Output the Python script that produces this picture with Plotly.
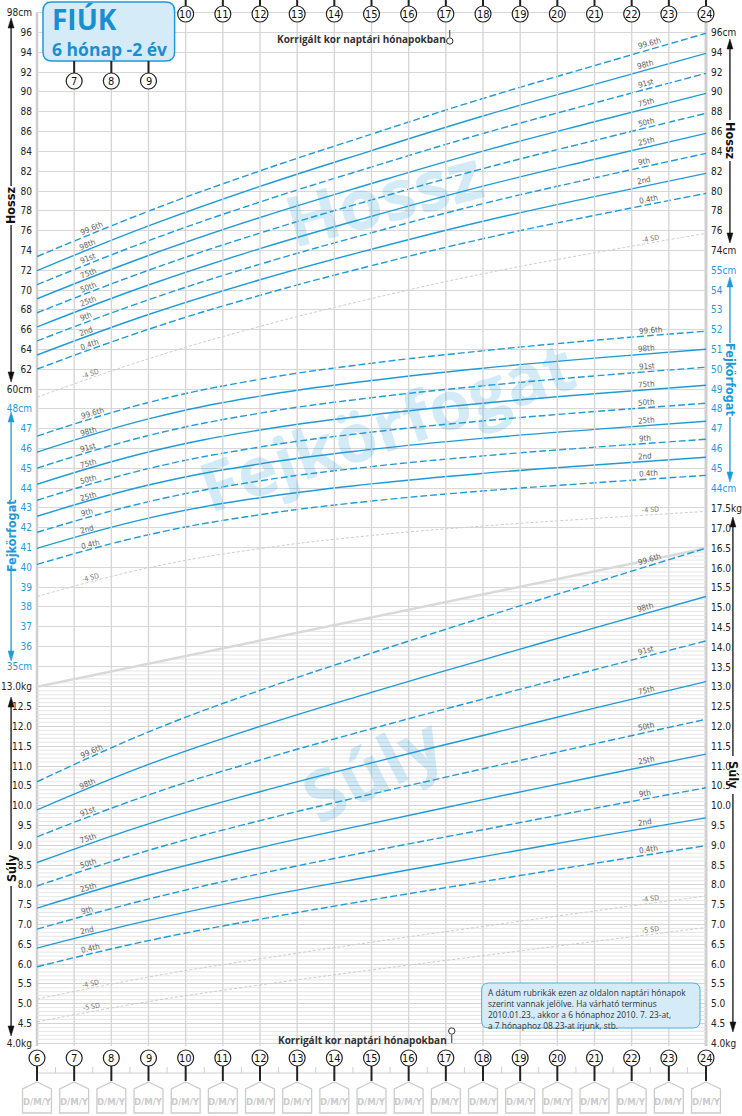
import math
import numpy as np
import plotly.graph_objects as go

# ---------------- data ----------------
MONTHS = [6, 9, 12, 15, 18, 21, 24]
CENTILE_LABELS = ["0.4th", "2nd", "9th", "25th", "50th", "75th", "91st", "98th", "99.6th"]
CENTILE_DASHED = [True, False, True, False, True, False, True, False, True]

# Length (Hossz), cm
LEN_P0_4 = [62.02, 66.04, 69.47, 72.46, 75.18, 77.54, 79.76]
LEN_P2 = [63.44, 67.53, 71.04, 74.12, 76.95, 79.43, 81.78]
LEN_P9 = [64.86, 69.02, 72.61, 75.78, 78.72, 81.32, 83.80]
LEN_P25 = [66.28, 70.51, 74.18, 77.44, 80.49, 83.21, 85.82]
LEN_P50 = [67.70, 72.00, 75.75, 79.10, 82.26, 85.10, 87.84]
LEN_P75 = [69.12, 73.49, 77.32, 80.76, 84.03, 86.99, 89.86]
LEN_P91 = [70.54, 74.98, 78.89, 82.42, 85.80, 88.88, 91.88]
LEN_P98 = [71.96, 76.47, 80.46, 84.08, 87.57, 90.77, 93.90]
LEN_P99_6 = [73.38, 77.96, 82.03, 85.74, 89.34, 92.66, 95.92]
LEN_M4SD = [59.18, 63.06, 66.33, 69.14, 71.64, 73.76, 75.72]

# Head circumference (Fejkörfogat), cm
HC_P0_4 = [40.14, 41.64, 42.65, 43.34, 43.85, 44.26, 44.64]
HC_P2 = [40.95, 42.48, 43.51, 44.21, 44.74, 45.16, 45.55]
HC_P9 = [41.76, 43.31, 44.36, 45.08, 45.62, 46.06, 46.46]
HC_P25 = [42.57, 44.15, 45.22, 45.95, 46.51, 46.96, 47.37]
HC_P50 = [43.38, 44.98, 46.07, 46.82, 47.39, 47.86, 48.28]
HC_P75 = [44.19, 45.82, 46.93, 47.69, 48.28, 48.76, 49.19]
HC_P91 = [45.00, 46.65, 47.78, 48.56, 49.16, 49.66, 50.10]
HC_P98 = [45.81, 47.49, 48.64, 49.43, 50.05, 50.56, 51.01]
HC_P99_6 = [46.62, 48.32, 49.49, 50.30, 50.93, 51.46, 51.92]
HC_M4SD = [38.52, 39.97, 40.94, 41.60, 42.08, 42.46, 42.82]

# Weight (Súly), kg
WT_P0_4 = [5.93, 6.59, 7.13, 7.62, 8.08, 8.54, 8.99]
WT_P2 = [6.40, 7.10, 7.69, 8.21, 8.71, 9.21, 9.69]
WT_P9 = [6.88, 7.64, 8.28, 8.85, 9.39, 9.93, 10.45]
WT_P25 = [7.41, 8.24, 8.94, 9.55, 10.15, 10.73, 11.30]
WT_P50 = [7.97, 8.87, 9.62, 10.29, 10.93, 11.56, 12.18]
WT_P75 = [8.56, 9.54, 10.35, 11.08, 11.77, 12.46, 13.13]
WT_P91 = [9.21, 10.27, 11.15, 11.94, 12.69, 13.43, 14.16]
WT_P98 = [9.89, 11.04, 12.00, 12.86, 13.68, 14.49, 15.28]
WT_P99_6 = [10.60, 11.86, 12.91, 13.85, 14.75, 15.63, 16.50]
WT_M4SD = [5.11, 5.67, 6.13, 6.55, 6.95, 7.34, 7.72]
WT_M5SD = [4.54, 5.05, 5.47, 5.85, 6.21, 6.57, 6.92]
WT_BOUND_MONTHS = [6, 24]
WT_BOUND = [13.0, 16.5]

# tick values
LEN_TICKS_L = list(range(60, 99, 2))
HC_TICKS_L = list(range(35, 49))
WT_TICKS_L = [x / 2 for x in range(8, 27)]
LEN_TICKS_R = list(range(74, 97, 2))
HC_TICKS_R = list(range(44, 56))
WT_TICKS_R = [x / 2 for x in range(8, 36)]
MONTH_TICKS = list(range(6, 25))

# ---------------- geometry / style ----------------
W, H = 742, 1116
X6, X24 = 37, 708
PPM = (X24 - X6) / 18.0
LEN_REF = (96.0, 32.5, 9.906)   # value, pixel row, pixels per unit
HC_REF = (44.0, 488.0, 19.8)
WT_REF = (6.0, 964.0, 39.6)

BLUE = "#1e9bd7"
GRID = "#d7d7d7"
MINOR = "#e6e6e6"
TICKFONT = "DejaVu Sans Condensed"
LABEL_GREY = "#5e5e5e"


def axis_range(ref):
    v, p, s = ref
    return [v - (H - p) / s, v + p / s]


def val_of(ref, py):
    v, p, s = ref
    return v - (py - p) / s


def xp(px):
    return (px - X6) / (X24 - X6)


def yp(py):
    return 1 - py / H


def xm(m):
    return X6 + (m - 6) * PPM


fig = go.Figure()

# minor weight grid (0.1 kg), bounded above by the grey diagonal
mx, my = [], []
for i in range(41, 165):
    if i % 5 == 0:
        continue
    wv = i / 10
    x0 = 6.0 if wv <= WT_BOUND[0] else float(np.interp(wv, WT_BOUND, WT_BOUND_MONTHS))
    mx += [x0, 24, None]
    my += [wv, wv, None]
fig.add_trace(go.Scatter(x=mx, y=my, yaxis="y3", mode="lines",
                         line=dict(color=MINOR, width=1), hoverinfo="skip", showlegend=False))

# vertical month lines
vx, vy = [], []
top_w, bot_w = val_of(WT_REF, 12.5), val_of(WT_REF, 1046)
for m in MONTH_TICKS[1:-1]:
    vx += [m, m, None]
    vy += [top_w, bot_w, None]
fig.add_trace(go.Scatter(x=vx, y=vy, yaxis="y3", mode="lines",
                         line=dict(color=GRID, width=1.4), hoverinfo="skip", showlegend=False))

# grey diagonal boundary
fig.add_trace(go.Scatter(x=WT_BOUND_MONTHS, y=WT_BOUND, yaxis="y3", mode="lines",
                         line=dict(color="#d9d9d9", width=2.5), hoverinfo="skip", showlegend=False))

# SD lines
for vals, ax in [(LEN_M4SD, "y"), (HC_M4SD, "y2"), (WT_M4SD, "y3"), (WT_M5SD, "y3")]:
    fig.add_trace(go.Scatter(x=MONTHS, y=vals, yaxis=ax, mode="lines",
                             line=dict(color="#cdcdcd", width=1, dash="3px,2px", shape="spline",
                                       smoothing=1.2),
                             hoverinfo="skip", showlegend=False))

LEN_SERIES = [LEN_P0_4, LEN_P2, LEN_P9, LEN_P25, LEN_P50, LEN_P75, LEN_P91, LEN_P98, LEN_P99_6]
HC_SERIES = [HC_P0_4, HC_P2, HC_P9, HC_P25, HC_P50, HC_P75, HC_P91, HC_P98, HC_P99_6]
WT_SERIES = [WT_P0_4, WT_P2, WT_P9, WT_P25, WT_P50, WT_P75, WT_P91, WT_P98, WT_P99_6]

for series, ax in [(LEN_SERIES, "y"), (HC_SERIES, "y2"), (WT_SERIES, "y3")]:
    for vals, dashed in zip(series, CENTILE_DASHED):
        fig.add_trace(go.Scatter(x=MONTHS, y=vals, yaxis=ax, mode="lines",
                                 line=dict(color=BLUE, width=1.4, dash="7px,3px" if dashed else "solid",
                                           shape="spline", smoothing=1.2),
                                 hoverinfo="skip", showlegend=False))

# dummy traces so right-hand axes render
for ax, v in [("y4", 80), ("y5", 50), ("y6", 10)]:
    fig.add_trace(go.Scatter(x=[6], y=[v], yaxis=ax, mode="lines", hoverinfo="skip",
                             showlegend=False, line=dict(width=0)))

annos = []
shapes = []

# watermarks
for txt, cx, cy, ang, size in [("Hossz", 385, 196, -15, 70), ("Fejkörfogat", 388, 425, -19, 68),
                               ("Súly", 373, 768, -27, 70)]:
    annos.append(dict(xref="paper", yref="paper", x=xp(cx), y=yp(cy), text="<b>" + txt + "</b>",
                      showarrow=False, textangle=ang, xanchor="center", yanchor="middle",
                      font=dict(family="Open Sans", size=size, color="rgba(30,155,215,0.2)")))


def add_curve_label(vals, ref, ax, text, start_px, size=8, color=LABEL_GREY, off=5.5):
    wpx = len(text) * 3.6
    m = 6 + (start_px + wpx / 2 - X6) / PPM
    v = float(np.interp(m, MONTHS, vals))
    dv = (float(np.interp(m + 0.4, MONTHS, vals)) - float(np.interp(m - 0.4, MONTHS, vals))) / 0.8
    slope = dv * ref[2] / PPM
    th = math.atan(slope)
    annos.append(dict(xref="x", yref=ax, x=m, y=v, text=text, showarrow=False,
                      textangle=-math.degrees(th), xanchor="center", yanchor="middle",
                      xshift=-off * math.sin(th), yshift=off * math.cos(th),
                      font=dict(family=TICKFONT, size=size, color=color)))


for series, ref, ax in [(LEN_SERIES, LEN_REF, "y"), (HC_SERIES, HC_REF, "y2"), (WT_SERIES, WT_REF, "y3")]:
    for vals, lab in zip(series, CENTILE_LABELS):
        add_curve_label(vals, ref, ax, lab, 83)
        add_curve_label(vals, ref, ax, lab, 642)

for vals, ref, ax, lab in [(LEN_M4SD, LEN_REF, "y", "-4 SD"), (HC_M4SD, HC_REF, "y2", "-4 SD"),
                           (WT_M4SD, WT_REF, "y3", "-4 SD"), (WT_M5SD, WT_REF, "y3", "-5 SD")]:
    add_curve_label(vals, ref, ax, lab, 83, size=7, color="#777777", off=4.5)
    add_curve_label(vals, ref, ax, lab, 644, size=7, color="#777777", off=4.5)


def line_px(x0, y0, x1, y1, color, width, layer="above"):
    shapes.append(dict(type="line", xref="paper", yref="paper", x0=xp(x0), y0=yp(y0), x1=xp(x1),
                       y1=yp(y1), line=dict(color=color, width=width), layer=layer))


def circle_px(cx, cy, r, fill, color, width):
    shapes.append(dict(type="circle", xref="paper", yref="paper", x0=xp(cx - r), x1=xp(cx + r),
                       y0=yp(cy + r), y1=yp(cy - r), fillcolor=fill, line=dict(color=color, width=width)))


def poly_px(pts, fill, color, width, layer="above"):
    path = "M " + " L ".join(f"{xp(x):.5f},{yp(y):.5f}" for x, y in pts) + " Z"
    shapes.append(dict(type="path", xref="paper", yref="paper", path=path, fillcolor=fill,
                       line=dict(color=color, width=width), layer=layer))


def rrect_px(x0, y0, x1, y1, r, fill, color, width):
    P = lambda x, y: f"{xp(x):.5f},{yp(y):.5f}"
    path = (f"M {P(x0 + r, y0)} L {P(x1 - r, y0)} Q {P(x1, y0)} {P(x1, y0 + r)} "
            f"L {P(x1, y1 - r)} Q {P(x1, y1)} {P(x1 - r, y1)} L {P(x0 + r, y1)} "
            f"Q {P(x0, y1)} {P(x0, y1 - r)} L {P(x0, y0 + r)} Q {P(x0, y0)} {P(x0 + r, y0)} Z")
    shapes.append(dict(type="path", xref="paper", yref="paper", path=path, fillcolor=fill,
                       line=dict(color=color, width=width)))


def text_px(x, y, text, size, color, family="Open Sans", xanchor="center", yanchor="middle",
            angle=0, align="center"):
    annos.append(dict(xref="paper", yref="paper", x=xp(x), y=yp(y), text=text, showarrow=False,
                      xanchor=xanchor, yanchor=yanchor, textangle=angle, align=align,
                      font=dict(family=family, size=size, color=color)))


# border lines
line_px(X6, 12.5, X6, 1046, "#cfcfcf", 2.5, layer="below")
line_px(X24, 12.5, X24, 1046, "#cfcfcf", 3, layer="below")

# side axis arrows + titles
SIDE = [
    (11, 18, 186, 205, 225, 382, "Hossz", "#111111", -90),
    (11, 412, 500, 536, 571, 661, "Fejkörfogat", BLUE, -90),
    (11, 697, 850, 868, 886, 1036, "Súly", "#111111", -90),
    (732, 39, 120, 141, 161, 243, "Hossz", "#111111", 90),
    (732, 277, 343, 380, 417, 482, "Fejkörfogat", BLUE, 90),
    (735, 517, 756, 775, 794, 1032, "Súly", "#111111", 90),
]
for x, tip_up, l1, tc, l2, tip_dn, txt, col, ang in SIDE:
    line_px(x, tip_up + 5, x, l1, col, 1.3)
    line_px(x, l2, x, tip_dn - 5, col, 1.3)
    poly_px([(x, tip_up), (x - 3, tip_up + 10), (x + 3, tip_up + 10)], col, col, 0.5)
    poly_px([(x, tip_dn), (x - 3, tip_dn - 10), (x + 3, tip_dn - 10)], col, col, 0.5)
    text_px(x + (1 if ang > 0 else 0), tc, "<b>" + txt + "</b>", 12.5, col, family=TICKFONT, angle=ang)

# title box
rrect_px(43, 2, 175, 61, 9, "#d5ebf8", BLUE, 1.5)
text_px(50, 19, "<b>FIÚK</b>", 28, "#1a8fd0", xanchor="left")
text_px(50, 49, "<b>6 hónap -2 év</b>", 17.5, "#1a8fd0", xanchor="left")

# month circles: top (7-9 under the title box, 10-24 at top), bottom 6-24
for m in MONTH_TICKS:
    cx = xm(m)
    if m >= 10:
        line_px(cx, 0, cx, 6, "#222222", 2)
        circle_px(cx, 14, 8, "white", "#222222", 1.2)
        text_px(cx, 14.5, str(m), 11, "#111111", family=TICKFONT)
    elif m >= 7:
        line_px(cx, 61, cx, 73, "#222222", 2)
        circle_px(cx, 81, 8, "white", "#222222", 1.2)
        text_px(cx, 81.5, str(m), 11, "#111111", family=TICKFONT)
    # bottom
    line_px(cx, 1066, cx, 1081, "#222222", 2)
    circle_px(cx, 1058, 8, "white", "#222222", 1.2)
    text_px(cx, 1058.5, str(m), 11, "#111111", family=TICKFONT)
    poly_px([(cx, 1082), (cx + 14.5, 1089), (cx + 14.5, 1113), (cx - 14.5, 1113), (cx - 14.5, 1089)],
            "white", "#cccccc", 1.3)
    text_px(cx, 1101, "<b>D/M/Y</b>", 9.5, "#cbcbcb", family=TICKFONT)

# half-month band at bottom
line_px(X6, 1073, X24, 1073, "#d0d0d0", 1, layer="below")
for m in MONTH_TICKS[:-1]:
    hx = xm(m + 0.5)
    line_px(hx, 1067, hx, 1073, "#d0d0d0", 1, layer="below")

# "Korrigált kor" captions
text_px(362, 39, "<b>Korrigált kor naptári hónapokban</b>", 10, "#333333")
line_px(451, 30, 451, 37, "#333333", 1)
circle_px(451, 41, 3.2, "white", "#333333", 1)
text_px(363, 1040, "<b>Korrigált kor naptári hónapokban</b>", 10, "#333333")
line_px(453, 1035, 453, 1043, "#333333", 1)
circle_px(453, 1031, 3.2, "white", "#333333", 1)

# note box
rrect_px(483, 983, 702, 1028, 7, "#d5ebf8", "#4aaee0", 1)
text_px(487, 985, "A dátum rubrikák ezen az oldalon naptári hónapok<br>szerint vannak jelölve. Ha várható terminus"
        "<br>2010.01.23., akkor a 6 hónaphoz 2010. 7. 23-at,<br>a 7 hónaphoz 08.23-at írjunk, stb.",
        8.4, "#333333", xanchor="left", yanchor="top", align="left")


def tick_text(vals, fmt, unit):
    out = []
    for i, v in enumerate(vals):
        s = fmt.format(v)
        if i == 0 or i == len(vals) - 1:
            s += unit
        out.append(s)
    return out


base_axis = dict(zeroline=False, showline=False, ticks="", fixedrange=True, ticklabelstandoff=4,
                 tickmode="array")

fig.update_layout(
    width=W, height=H,
    margin=dict(l=X6, r=W - X24, t=0, b=0, pad=0),
    paper_bgcolor="white", plot_bgcolor="white",
    showlegend=False,
    xaxis=dict(range=[6, 24], showgrid=False, zeroline=False, showline=False, showticklabels=False,
               fixedrange=True),
    yaxis=dict(base_axis, range=axis_range(LEN_REF), tickvals=LEN_TICKS_L,
               ticktext=tick_text(LEN_TICKS_L, "{}", "cm"), showgrid=True, gridcolor=GRID, gridwidth=1.3,
               tickfont=dict(family=TICKFONT, size=10, color="#222222"), side="left"),
    yaxis2=dict(base_axis, range=axis_range(HC_REF), tickvals=HC_TICKS_L,
                ticktext=tick_text(HC_TICKS_L, "{}", "cm"), showgrid=True, gridcolor=GRID, gridwidth=1.3,
                tickfont=dict(family=TICKFONT, size=10, color=BLUE), side="left", overlaying="y",
                anchor="x"),
    yaxis3=dict(base_axis, range=axis_range(WT_REF), tickvals=WT_TICKS_L,
                ticktext=tick_text(WT_TICKS_L, "{:.1f}", "kg"), showgrid=True, gridcolor="#d3d3d3",
                gridwidth=1.2, tickfont=dict(family=TICKFONT, size=10, color="#222222"), side="left",
                overlaying="y", anchor="x"),
    yaxis4=dict(base_axis, range=axis_range(LEN_REF), tickvals=LEN_TICKS_R,
                ticktext=tick_text(LEN_TICKS_R, "{}", "cm"), showgrid=False,
                tickfont=dict(family=TICKFONT, size=10, color="#222222"), side="right", overlaying="y",
                anchor="x"),
    yaxis5=dict(base_axis, range=axis_range(HC_REF), tickvals=HC_TICKS_R,
                ticktext=tick_text(HC_TICKS_R, "{}", "cm"), showgrid=False,
                tickfont=dict(family=TICKFONT, size=10, color=BLUE), side="right", overlaying="y",
                anchor="x"),
    yaxis6=dict(base_axis, range=axis_range(WT_REF), tickvals=WT_TICKS_R,
                ticktext=tick_text(WT_TICKS_R, "{:.1f}", "kg"), showgrid=False,
                tickfont=dict(family=TICKFONT, size=10, color="#222222"), side="right", overlaying="y",
                anchor="x"),
    annotations=annos,
    shapes=shapes,
)

fig.write_html("out.html", config={"displayModeBar": False})
